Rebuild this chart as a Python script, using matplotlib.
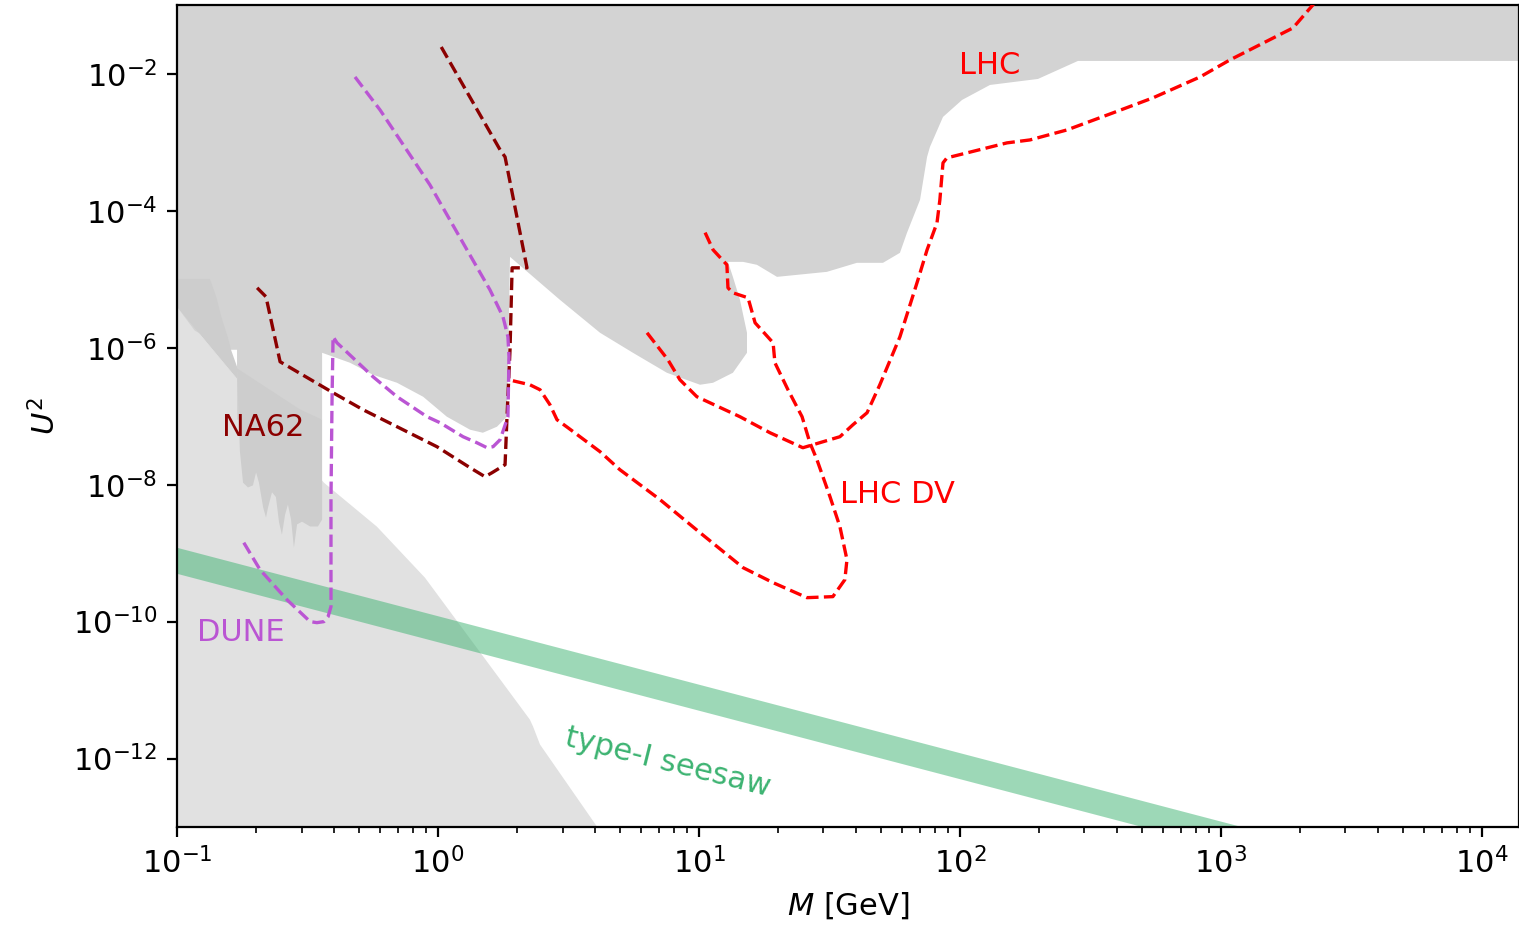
import numpy as np
import matplotlib
matplotlib.use("Agg")
import matplotlib.pyplot as plt
from matplotlib.ticker import FixedLocator, NullLocator, LogFormatterSciNotation

# ---------------- data (log10 M [GeV], log10 U^2) ----------------
# main excluded region (upper grey)
excl_logM = [-1.0, -0.932, -0.797, -0.770, -0.770, -0.444, -0.444, -0.337, -0.249, -0.157,
             -0.057, 0.034, 0.123, 0.172, 0.226, 0.264, 0.276, 0.467, 0.621, 0.747, 0.877,
             1.004, 1.054, 1.130, 1.184, 1.184, 1.157, 1.130, 1.111, 1.169, 1.222, 1.299,
             1.490, 1.605, 1.705, 1.770, 1.797, 1.847, 1.874, 1.885, 1.935, 2.008, 2.115,
             2.299, 2.452, 4.3, 4.3, -1.0]
excl_logU2 = [-5.401, -5.75, -6.029, -6.029, -7.051, -7.051, -6.073, -6.219, -6.394, -6.511,
              -6.715, -7.007, -7.197, -7.241, -7.153, -7.007, -4.672, -5.299, -5.781, -6.073,
              -6.365, -6.540, -6.511, -6.365, -6.073, -5.781, -5.299, -4.964, -4.745, -4.745,
              -4.788, -4.964, -4.891, -4.759, -4.759, -4.613, -4.321, -3.839, -3.212, -3.066,
              -2.628, -2.380, -2.161, -2.073, -1.810, -1.810, 0.0, 0.0]

# light grey lower-left region
bbn_logM = [-1.0, -0.437, -0.234, -0.050, 0.352, 0.364, 0.391, 0.609, 0.66, -1.0]
bbn_logU2 = [-5.401, -7.971, -8.613, -9.358, -11.431, -11.53, -11.796, -12.993, -13.3, -13.3]

# darker grey patch (beam dump) – upper part and spiky body
bd_top_logM = [-1.0, -0.874, -0.850, -0.830, -0.805, -0.793, -0.770, -0.770, -1.0]
bd_top_logU2 = [-4.993, -4.993, -5.25, -5.55, -5.85, -6.029, -6.277, -6.453, -5.401]
bd_body_logM = [-0.770, -0.759, -0.747, -0.728, -0.709, -0.697, -0.686, -0.670, -0.659,
                -0.651, -0.636, -0.621, -0.609, -0.598, -0.586, -0.575, -0.563, -0.552,
                -0.540, -0.521, -0.490, -0.460, -0.444, -0.444, -0.529, -0.770]
bd_body_logU2 = [-6.30, -7.51, -7.97, -8.04, -8.01, -7.82, -7.97, -8.33, -8.48, -8.33,
                 -8.11, -8.18, -8.55, -8.73, -8.44, -8.29, -8.51, -8.92, -8.58, -8.54,
                 -8.61, -8.61, -8.51, -7.05, -6.90, -6.30]

# NA62
na62_logM = [-0.693, -0.659, -0.605, -0.395, -0.287, -0.157, -0.004, 0.123, 0.180, 0.207,
             0.257, 0.264, 0.276, 0.284, 0.341, 0.257, 0.238, 0.008]
na62_logU2 = [-5.124, -5.255, -6.204, -6.672, -6.905, -7.153, -7.445, -7.752, -7.883, -7.825,
              -7.708, -7.051, -6.029, -4.832, -4.832, -3.212, -3.109, -1.577]

# DUNE
dune_logM = [-0.318, -0.222, -0.031, 0.111, 0.199, 0.249, 0.268, 0.272, 0.268, 0.238, 0.211,
             0.188, 0.149, 0.096, 0.008, -0.042, -0.157, -0.249, -0.387, -0.402, -0.406,
             -0.410, -0.410, -0.421, -0.437, -0.464, -0.490, -0.579, -0.682, -0.751]
dune_logU2 = [-2.044, -2.526, -3.620, -4.569, -5.153, -5.547, -5.839, -6.131, -7.007, -7.343,
              -7.445, -7.460, -7.387, -7.299, -7.095, -7.007, -6.715, -6.423, -5.927, -5.839,
              -6.759, -8.219, -9.781, -9.927, -10.0, -10.015, -10.0, -9.679, -9.241, -8.803]

# LHC displaced vertices
lhcdv_logM = [0.287, 0.352, 0.391, 0.429, 0.456, 0.498, 0.621, 0.697, 0.851, 1.004, 1.169,
              1.284, 1.414, 1.513, 1.559, 1.567, 1.540, 1.502, 1.452, 1.425, 1.395, 1.341,
              1.291, 1.284, 1.215, 1.188, 1.130, 1.111, 1.107, 1.054, 1.015]
lhcdv_logU2 = [-6.482, -6.540, -6.613, -6.832, -7.051, -7.168, -7.518, -7.781, -8.219,
               -8.701, -9.212, -9.431, -9.650, -9.635, -9.387, -9.095, -8.613, -8.175,
               -7.635, -7.387, -7.007, -6.613, -6.219, -5.927, -5.635, -5.270, -5.197,
               -5.124, -4.788, -4.569, -4.248]

# LHC prompt
lhc_logM = [0.801, 0.881, 0.927, 0.992, 1.157, 1.272, 1.398, 1.437, 1.540, 1.590, 1.644,
            1.693, 1.770, 1.839, 1.874, 1.912, 1.923, 1.935, 1.950, 2.180, 2.268, 2.410,
            2.586, 2.739, 2.920, 3.034, 3.276, 3.352, 3.379]
lhc_logU2 = [-5.781, -6.175, -6.467, -6.715, -7.007, -7.241, -7.460, -7.416, -7.299, -7.124,
             -6.949, -6.540, -5.839, -5.007, -4.569, -4.175, -3.839, -3.299, -3.226, -3.007,
             -2.964, -2.818, -2.569, -2.350, -2.044, -1.796, -1.328, -0.993, -0.847]

# type-I seesaw band endpoints
seesaw_M = [1e-1, 1e5]
seesaw_lo = [5e-10, 5e-16]
seesaw_hi = [1.2e-9, 1.2e-15]

# y tick positions
y_ticks = [1e-12, 1e-10, 1e-8, 1e-6, 1e-4, 1e-2]


def tv(a):
    return 10.0 ** np.asarray(a)


# ---------------- figure ----------------
fig = plt.figure(figsize=(15.19 / 2, 9.25 / 2), dpi=200)
ax = fig.add_axes([177 / 1519, 1 - 827 / 925, 1 - 177 / 1519, (827 - 5) / 925])
ax.set_xscale("log")
ax.set_yscale("log")

ax.fill(tv(bbn_logM), tv(bbn_logU2), color="#e1e1e1", lw=0, zorder=0.5)
ax.fill(tv(excl_logM), tv(excl_logU2), color="#d3d3d3", lw=0, zorder=1)
ax.fill(tv(bd_top_logM), tv(bd_top_logU2), color="#cdcdcd", lw=0, zorder=1.1)
ax.fill(tv(bd_body_logM), tv(bd_body_logU2), color="#cdcdcd", lw=0, zorder=1.1)

ax.fill_between(seesaw_M, seesaw_lo, seesaw_hi, color="mediumseagreen", alpha=0.5,
                lw=0, zorder=2)

lw = 1.2
ax.plot(tv(na62_logM), tv(na62_logU2), ls="--", color="darkred", lw=lw, zorder=3)
ax.plot(tv(dune_logM), tv(dune_logU2), ls="--", color="mediumorchid", lw=lw, zorder=3)
ax.plot(tv(lhcdv_logM), tv(lhcdv_logU2), ls="--", color="red", lw=lw, zorder=3)
ax.plot(tv(lhc_logM), tv(lhc_logU2), ls="--", color="red", lw=lw, zorder=3)

fs = 11
ax.text(130, 0.0135, "LHC", color="red", fontsize=fs, ha="center", va="center", zorder=4)
ax.text(57.8, 7.1e-9, "LHC DV", color="red", fontsize=fs, ha="center", va="center", zorder=4)
ax.text(0.214, 6.8e-8, "NA62", color="darkred", fontsize=fs, ha="center", va="center", zorder=4)
ax.text(0.176, 6.9e-11, "DUNE", color="mediumorchid", fontsize=fs, ha="center", va="center", zorder=4)
ax.text(7.6, 8.7e-13, "type-I seesaw", color="mediumseagreen", fontsize=fs, ha="center",
        va="center", rotation=-14, rotation_mode="anchor", zorder=4)

ax.set_xlim(0.1, 10 ** 4.142)
ax.set_ylim(1e-13, 10 ** -0.993)
ax.yaxis.set_major_locator(FixedLocator(y_ticks))
ax.yaxis.set_major_formatter(LogFormatterSciNotation())
ax.yaxis.set_minor_locator(NullLocator())
ax.set_xlabel("$M$ [GeV]", fontsize=11)
ax.set_ylabel("$U^2$", fontsize=11)
ax.tick_params(labelsize=11)

fig.savefig("out.png", dpi=200)
